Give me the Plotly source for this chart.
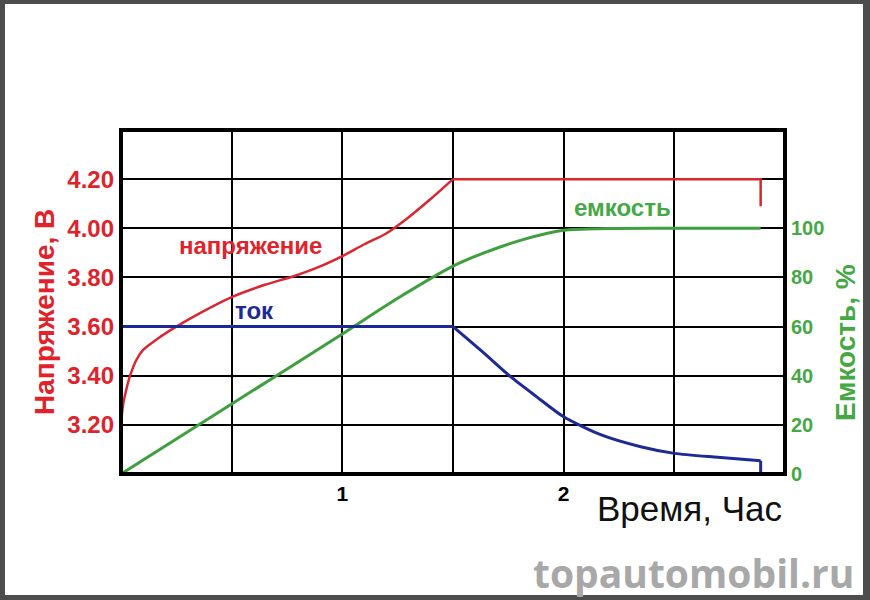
import plotly.graph_objects as go

# ---------------- data ----------------
voltage_t = [0.0, 0.009, 0.023, 0.041, 0.07, 0.1, 0.18, 0.25, 0.357, 0.5, 0.65, 0.78, 0.9, 1.0, 1.1, 1.2, 1.3, 1.4, 1.5, 2.89, 2.89]
voltage_v = [3.20, 3.28, 3.34, 3.40, 3.465, 3.505, 3.56, 3.60, 3.655, 3.72, 3.77, 3.805, 3.845, 3.887, 3.935, 3.98, 4.045, 4.12, 4.20, 4.20, 4.09]

current_t = [0.0, 1.5, 1.63, 1.76, 1.877, 2.0, 2.17, 2.348, 2.5, 2.696, 2.89, 2.89]
current_a = [0.6, 0.6, 0.5, 0.396, 0.315, 0.233, 0.159, 0.111, 0.084, 0.068, 0.054, 0.0]

capacity_t = [0.0, 0.5, 1.0, 1.25, 1.5, 1.64, 1.82, 2.0, 2.2, 2.5, 2.89]
capacity_pct = [0.0, 28.5, 57.0, 71.5, 84.6, 90.0, 95.5, 99.2, 99.9, 100.0, 100.0]

x_tickvals = [0.5, 1.0, 1.5, 2.0, 2.5]
x_ticktext = ["", "1", "", "2", ""]
v_tickvals = [3.2, 3.4, 3.6, 3.8, 4.0, 4.2]
v_ticktext = ["3.20", "3.40", "3.60", "3.80", "4.00", "4.20"]
cap_tickvals = [0, 20, 40, 60, 80, 100]

# ---------------- styling ----------------
RED = "#e0222b"
RED_LINE = "#d92630"
BLUE = "#1e2a94"
GREEN = "#3f9f3f"
GREEN_TXT = "#45a845"
FONT = "Liberation Sans, Arial, sans-serif"

W, H = 870, 600
L, R, T, B = 121, 85, 130, 126
PW, PH = W - L - R, H - T - B


def px(xp):
    return (xp - L) / PW


def py(yp):
    return (H - B - yp) / PH


fig = go.Figure()

# capacity (smooth curve)
fig.add_trace(go.Scatter(x=capacity_t, y=capacity_pct, yaxis="y2", mode="lines",
                         line=dict(color=GREEN, width=3, shape="spline", smoothing=0.8),
                         hoverinfo="skip"))

# current: constant part (straight), decay part (smooth), cut-off (straight)
ci = current_t.index(1.5)
fig.add_trace(go.Scatter(x=current_t[:ci + 1], y=current_a[:ci + 1], yaxis="y3", mode="lines",
                         line=dict(color=BLUE, width=3), hoverinfo="skip"))
fig.add_trace(go.Scatter(x=current_t[ci:-1], y=current_a[ci:-1], yaxis="y3", mode="lines",
                         line=dict(color=BLUE, width=3, shape="spline", smoothing=0.7),
                         hoverinfo="skip"))
fig.add_trace(go.Scatter(x=current_t[-2:], y=current_a[-2:], yaxis="y3", mode="lines",
                         line=dict(color=BLUE, width=3), hoverinfo="skip"))

# voltage: rising part (smooth), constant part and cut-off (straight)
vi = voltage_t.index(1.5)
fig.add_trace(go.Scatter(x=voltage_t[:vi + 1], y=voltage_v[:vi + 1], yaxis="y", mode="lines",
                         line=dict(color=RED_LINE, width=2.5, shape="spline", smoothing=0.8),
                         hoverinfo="skip"))
fig.add_trace(go.Scatter(x=voltage_t[vi:], y=voltage_v[vi:], yaxis="y", mode="lines",
                         line=dict(color=RED_LINE, width=2.5), hoverinfo="skip"))

fig.update_layout(
    width=W, height=H,
    margin=dict(l=L, r=R, t=T, b=B),
    paper_bgcolor="white", plot_bgcolor="white",
    showlegend=False,
    xaxis=dict(range=[0, 3], tickvals=x_tickvals, ticktext=x_ticktext,
               showgrid=True, gridcolor="black", gridwidth=2, zeroline=False,
               ticks="", showline=False, ticklabelstandoff=5,
               tickfont=dict(family=FONT, size=21, color="black", weight="bold")),
    yaxis=dict(range=[3.0, 4.4], tickvals=v_tickvals, ticktext=v_ticktext,
               showgrid=True, gridcolor="black", gridwidth=2, zeroline=False,
               ticks="", showline=False, ticklabelstandoff=6,
               tickfont=dict(family=FONT, size=24, color=RED, weight="bold")),
    yaxis2=dict(range=[0, 140], tickvals=cap_tickvals, overlaying="y", side="right",
                showgrid=False, zeroline=False, ticks="", showline=False,
                ticklabelstandoff=5,
                tickfont=dict(family=FONT, size=20, color=GREEN_TXT, weight="bold")),
    yaxis3=dict(range=[0, 1.4], overlaying="y", visible=False),
)

# plot frame
fig.add_shape(type="rect", xref="paper", yref="paper", x0=0, x1=1, y0=0, y1=1,
              line=dict(color="black", width=4), layer="above")

# outer dark border of the picture
BORDER = "#4d4d4d"
for (x0, x1, y0, y1) in [(0, 5, 0, 600), (863, 870, 0, 600), (0, 870, 0, 4), (0, 870, 595, 600)]:
    fig.add_shape(type="rect", xref="paper", yref="paper",
                  x0=px(x0), x1=px(x1), y0=py(y1), y1=py(y0),
                  line=dict(width=0), fillcolor=BORDER, layer="above")

ann = []
ann.append(dict(text="Напряжение, В", xref="paper", yref="paper", x=px(44), y=py(312),
                textangle=-90, showarrow=False, xanchor="center", yanchor="middle",
                font=dict(family=FONT, size=28, color=RED, weight="bold")))
ann.append(dict(text="Емкость, %", xref="paper", yref="paper", x=px(845), y=py(343),
                textangle=-90, showarrow=False, xanchor="center", yanchor="middle",
                font=dict(family=FONT, size=28, color=GREEN_TXT, weight="bold")))
ann.append(dict(text="Время, Час", xref="paper", yref="paper", x=px(689), y=py(508),
                showarrow=False, xanchor="center", yanchor="middle",
                font=dict(family=FONT, size=35, color="#111111")))
ann.append(dict(text="напряжение", xref="x", yref="y", x=0.583, y=3.93,
                showarrow=False, xanchor="center", yanchor="middle",
                font=dict(family=FONT, size=24, color=RED, weight="bold")))
ann.append(dict(text="ток", xref="x", yref="y", x=0.601, y=3.665,
                showarrow=False, xanchor="center", yanchor="middle",
                font=dict(family=FONT, size=24, color=BLUE, weight="bold")))
ann.append(dict(text="емкость", xref="x", yref="y", x=2.268, y=4.085,
                showarrow=False, xanchor="center", yanchor="middle",
                font=dict(family=FONT, size=24, color=GREEN_TXT, weight="bold")))
ann.append(dict(text="topautomobil.ru", xref="paper", yref="paper", x=px(856), y=py(572),
                showarrow=False, xanchor="right", yanchor="middle",
                font=dict(family="Open Sans, DejaVu Sans, sans-serif", size=39,
                          color="#a8a8a8", weight="bold")))
fig.update_layout(annotations=ann)

fig.write_html("out.html", config={"displayModeBar": False},
               post_script="document.body.style.margin='0';document.body.style.padding='0';")
